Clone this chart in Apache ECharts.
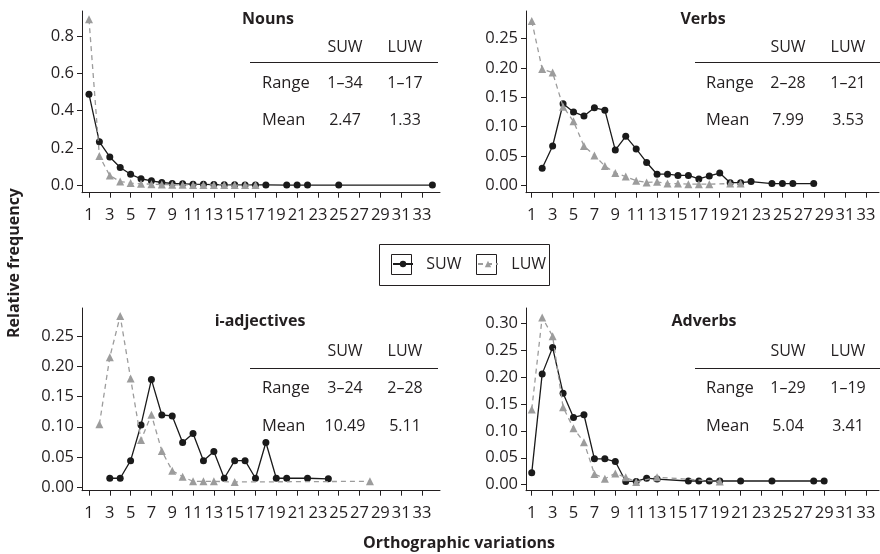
<!DOCTYPE html>
<html>
<head>
<meta charset="utf-8">
<script src="https://cdn.jsdelivr.net/npm/echarts@6/dist/echarts.min.js"></script>
<style>html,body{margin:0;padding:0;background:#fff}#c{width:880px;height:554px}</style>
</head>
<body>
<div id="c"></div>
<script>
// ---- data ----
const xTickValues = [1,3,5,7,9,11,13,15,17,19,21,23,25,27,29,31,33];
const nounsYTicks = [0, 0.2, 0.4, 0.6, 0.8];
const verbsYTicks = [0, 0.05, 0.10, 0.15, 0.20, 0.25];
const adjYTicks = [0, 0.05, 0.10, 0.15, 0.20, 0.25];
const advYTicks = [0, 0.05, 0.10, 0.15, 0.20, 0.25, 0.30];

const nounsSuwX = [1,2,3,4,5,6,7,8,9,10,11,12,13,14,15,16,17,18,20,21,22,25,34];
const nounsSuwY = [0.488,0.233,0.152,0.095,0.059,0.035,0.024,0.015,0.010,0.008,0.006,0.005,0.004,0.003,0.003,0.002,0.002,0.002,0.001,0.001,0.001,0.001,0.001];
const nounsLuwX = [1,2,3,4,5,6,7,8,9,10,11,12,13,14,15,16,17];
const nounsLuwY = [0.890,0.157,0.052,0.020,0.012,0.008,0.006,0.004,0.003,0.003,0.002,0.002,0.002,0.002,0.001,0.001,0.001];

const verbsSuwX = [2,3,4,5,6,7,8,9,10,11,12,13,14,15,16,17,18,19,20,21,22,24,25,26,28];
const verbsSuwY = [0.029,0.067,0.139,0.125,0.118,0.132,0.128,0.060,0.0835,0.062,0.039,0.019,0.019,0.017,0.017,0.011,0.016,0.021,0.0045,0.0045,0.0065,0.003,0.003,0.003,0.003];
const verbsLuwX = [1,2,3,4,5,6,7,8,9,10,11,12,13,14,15,16,17,18,20,21];
const verbsLuwY = [0.280,0.198,0.192,0.134,0.109,0.067,0.051,0.033,0.021,0.015,0.008,0.005,0.006,0.003,0.003,0.002,0.002,0.002,0.003,0.003];

const adjSuwX = [3,4,5,6,7,8,9,10,11,12,13,14,15,16,17,18,19,20,22,24];
const adjSuwY = [0.015,0.015,0.044,0.103,0.178,0.1195,0.118,0.074,0.089,0.044,0.059,0.015,0.044,0.044,0.015,0.074,0.015,0.015,0.015,0.014];
const adjLuwX = [2,3,4,5,6,7,8,9,10,11,12,13,15,28];
const adjLuwY = [0.104,0.215,0.283,0.180,0.078,0.120,0.060,0.0275,0.0176,0.0099,0.0099,0.0099,0.0088,0.0099];

const advSuwX = [1,2,3,4,5,6,7,8,9,10,11,12,13,16,17,18,19,21,24,28,29];
const advSuwY = [0.022,0.206,0.255,0.170,0.125,0.130,0.048,0.048,0.043,0.006,0.006,0.012,0.0105,0.0068,0.0068,0.0068,0.0068,0.0068,0.0068,0.0068,0.0068];
const advLuwX = [1,2,3,4,5,6,7,8,9,10,11,13,19];
const advLuwY = [0.140,0.311,0.276,0.144,0.105,0.079,0.020,0.011,0.021,0.0136,0.005,0.014,0.006];

const panelTitles = ['Nouns', 'Verbs', 'i-adjectives', 'Adverbs'];
const tableHeader = ['SUW', 'LUW'];
const rangeRows = [['1–34','1–17'], ['2–28','1–21'], ['3–24','2–28'], ['1–29','1–19']];
const meanRows = [['2.47','1.33'], ['7.99','3.53'], ['10.49','5.11'], ['5.04','3.41']];

// ---- layout ----
const FONT = '"Open Sans", "Noto Sans", sans-serif';
const TXT = '#231f20';
const grids = [
  {left: 82, top: 11, width: 358, height: 181.7},
  {left: 526, top: 11, width: 353, height: 181.7},
  {left: 82, top: 308, width: 358, height: 182.7},
  {left: 526, top: 308, width: 353, height: 182.7}
];
const xRanges = [[0.33, 34.73], [0.45, 34.25], [0.33, 34.73], [0.45, 34.25]];
const yRanges = [[-0.0397, 0.934], [-0.0125, 0.2969], [-0.0056, 0.2963], [-0.0112, 0.3285]];
const yTickSets = [nounsYTicks, verbsYTicks, adjYTicks, advYTicks];
const yDigits = [1, 2, 2, 2];

const zip = (xs, ys) => xs.map((x, i) => [x, ys[i]]);
const suwSets = [zip(nounsSuwX, nounsSuwY), zip(verbsSuwX, verbsSuwY), zip(adjSuwX, adjSuwY), zip(advSuwX, advSuwY)];
const luwSets = [zip(nounsLuwX, nounsLuwY), zip(verbsLuwX, verbsLuwY), zip(adjLuwX, adjLuwY), zip(advLuwX, advLuwY)];

const xAxes = grids.map((g, i) => ({
  type: 'value', gridIndex: i, min: xRanges[i][0], max: xRanges[i][1],
  axisLine: {show: true, onZero: false, lineStyle: {color: TXT, width: 1}},
  axisTick: {show: true, length: 5, customValues: xTickValues, lineStyle: {color: TXT}},
  axisLabel: {customValues: xTickValues, fontSize: 16.5, fontFamily: FONT, color: TXT, margin: 14},
  splitLine: {show: false}
}));
const yAxes = grids.map((g, i) => ({
  type: 'value', gridIndex: i, min: yRanges[i][0], max: yRanges[i][1],
  axisLine: {show: true, onZero: false, lineStyle: {color: TXT, width: 1}},
  axisTick: {show: true, length: 5, customValues: yTickSets[i], lineStyle: {color: TXT}},
  axisLabel: {customValues: yTickSets[i], fontSize: 16.5, fontFamily: FONT, color: TXT, margin: 8,
    formatter: v => Number(v).toFixed(yDigits[i])},
  splitLine: {show: false}
}));

const series = [];
for (let i = 0; i < 4; i++) {
  series.push({
    name: 'SUW', type: 'line', xAxisIndex: i, yAxisIndex: i, data: suwSets[i],
    symbol: 'circle', symbolSize: 7, showAllSymbol: true,
    itemStyle: {color: '#1a1a1a'}, lineStyle: {color: '#1a1a1a', width: 1.3},
    animation: false, z: 2
  });
  series.push({
    name: 'LUW', type: 'line', xAxisIndex: i, yAxisIndex: i, data: luwSets[i],
    symbol: 'triangle', symbolSize: 8, showAllSymbol: true,
    itemStyle: {color: '#9c9c9c'}, lineStyle: {color: '#9c9c9c', width: 1.3, type: [5, 4]},
    animation: false, z: 3
  });
}

// ---- text / table graphics ----
const graphics = [];
function txt(text, x, y, opts) {
  graphics.push(Object.assign({type: 'text', x: x, y: y, silent: true,
    style: Object.assign({text: text, fill: TXT, font: '16px ' + FONT, align: 'center', verticalAlign: 'middle'}, opts || {})}));
}
const tables = [
  {title: [268, 19], c1: 345, c2: 405, rangeX: 262, lineX: [250, 438], hy: 47, ly: 62.5, ry: 83, my: 120},
  {title: [703, 19], c1: 788, c2: 848, rangeX: 706, lineX: [695, 880], hy: 47, ly: 62.5, ry: 83, my: 120},
  {title: [260, 321], c1: 345, c2: 405, rangeX: 262, lineX: [250, 438], hy: 351, ly: 368.5, ry: 388, my: 426},
  {title: [704, 321], c1: 788, c2: 848, rangeX: 706, lineX: [695, 880], hy: 351, ly: 368.5, ry: 388, my: 426}
];
tables.forEach((t, i) => {
  txt(panelTitles[i], t.title[0], t.title[1], {font: 'bold 16px ' + FONT});
  txt(tableHeader[0], t.c1, t.hy);
  txt(tableHeader[1], t.c2, t.hy);
  graphics.push({type: 'line', silent: true, shape: {x1: t.lineX[0], y1: t.ly, x2: t.lineX[1], y2: t.ly},
    style: {stroke: TXT, lineWidth: 1.2}});
  txt('Range', t.rangeX, t.ry, {align: 'left', font: '16.5px ' + FONT});
  txt(rangeRows[i][0], t.c1, t.ry);
  txt(rangeRows[i][1], t.c2, t.ry);
  txt('Mean', t.rangeX, t.my, {align: 'left', font: '16.5px ' + FONT});
  txt(meanRows[i][0], t.c1, t.my);
  txt(meanRows[i][1], t.c2, t.my);
});
// axis titles
txt('Orthographic variations', 459, 543, {font: 'bold 16px ' + FONT});
graphics.push({type: 'text', x: 14, y: 263, rotation: Math.PI / 2, silent: true,
  style: {text: 'Relative frequency', fill: TXT, font: 'bold 16px ' + FONT, align: 'center', verticalAlign: 'middle'}});
// legend frames
graphics.push({type: 'rect', silent: true, shape: {x: 379.5, y: 244.5, width: 170, height: 41},
  style: {fill: 'none', stroke: TXT, lineWidth: 1}});
graphics.push({type: 'rect', silent: true, shape: {x: 391.5, y: 254.5, width: 20, height: 20},
  style: {fill: 'none', stroke: TXT, lineWidth: 1}});
graphics.push({type: 'rect', silent: true, shape: {x: 476.5, y: 254.5, width: 20, height: 20},
  style: {fill: 'none', stroke: TXT, lineWidth: 1}});

const legendCommon = {
  orient: 'horizontal', padding: 0, itemWidth: 20, itemHeight: 8, selectedMode: false,
  textStyle: {fontSize: 16, fontFamily: FONT, color: TXT},
  formatter: n => '  ' + n
};

const chart = echarts.init(document.getElementById('c'), null, {renderer: 'canvas'});
chart.setOption({
  animation: false,
  backgroundColor: '#fff',
  grid: grids,
  xAxis: xAxes,
  yAxis: yAxes,
  legend: [
    Object.assign({left: 392, top: 256}, legendCommon, {data: ['SUW']}),
    Object.assign({left: 477, top: 256}, legendCommon, {data: ['LUW']})
  ],
  series: series,
  graphic: graphics
});
</script>
</body>
</html>
